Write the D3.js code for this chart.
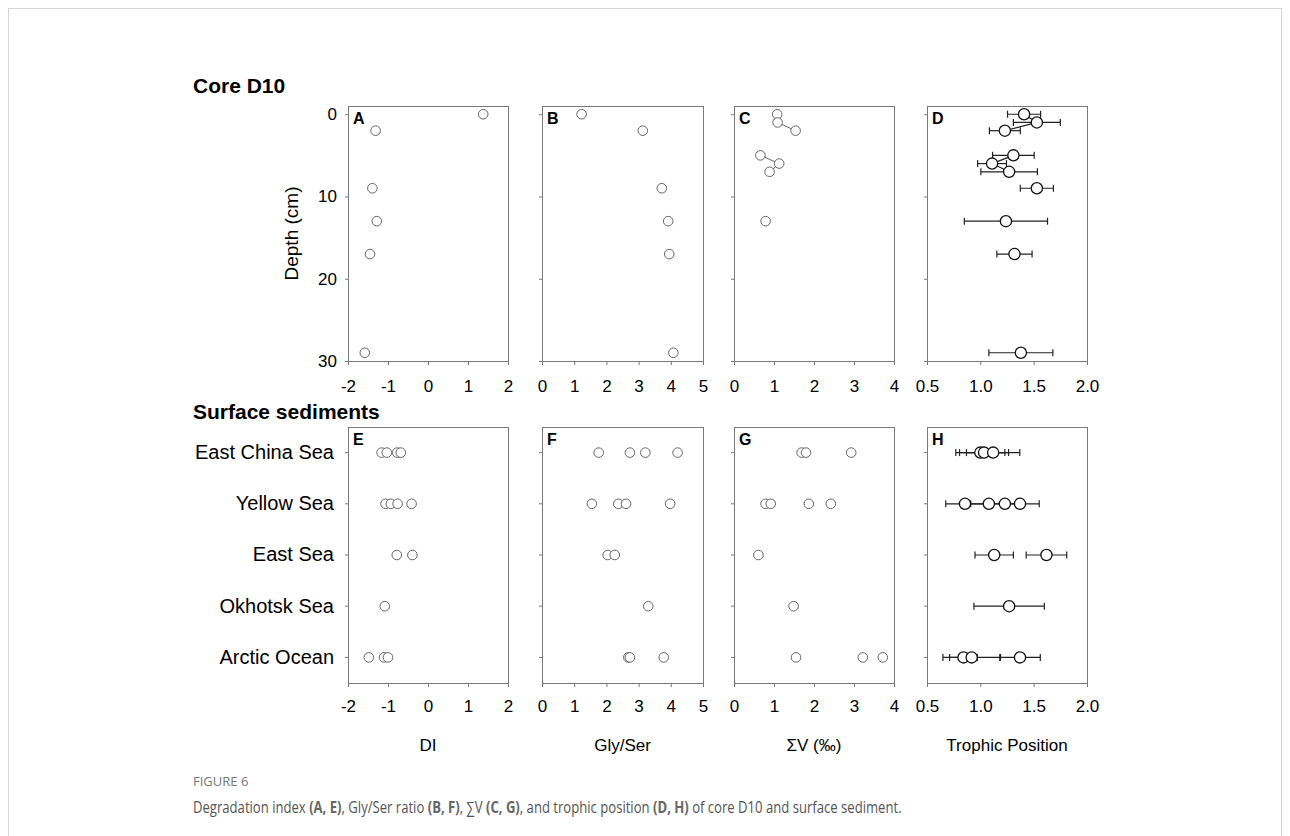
<!DOCTYPE html>
<html>
<head>
<meta charset="utf-8">
<script src="https://cdn.jsdelivr.net/npm/d3@7"></script>
<style>
  body { margin: 0; background: #fff; }
  svg { display: block; }
</style>
</head>
<body>
<svg id="fig" width="1290" height="836"></svg>
<script>
// ---- Core D10: sampling depths (cm); null where a variable was not measured ----
const coreDepth  = [0, 1, 2, 5, 6, 7, 9, 13, 17, 29];
const coreDI     = [1.38, null, -1.31, null, null, null, -1.39, -1.28, -1.45, -1.58];
const coreGlySer = [1.23, null, 3.13, null, null, null, 3.72, 3.92, 3.95, 4.08];
const coreSumV   = [1.08, 1.09, 1.54, 0.66, 1.13, 0.89, null, 0.79, null, null];
const coreTP     = [1.41, 1.53, 1.23, 1.31, 1.11, 1.27, 1.53, 1.24, 1.32, 1.38];
const coreTPsd   = [0.155, 0.22, 0.145, 0.195, 0.135, 0.265, 0.155, 0.39, 0.165, 0.30];

// ---- Surface sediments, one list of stations per region ----
const regions = ["East China Sea", "Yellow Sea", "East Sea", "Okhotsk Sea", "Arctic Ocean"];
const surfaceDI     = [[-1.16, -1.03, -0.77, -0.68], [-1.06, -0.93, -0.76, -0.41], [-0.78, -0.39], [-1.08], [-1.48, -1.10, -1.00]];
const surfaceGlySer = [[1.76, 2.73, 3.21, 4.21], [1.55, 2.37, 2.61, 3.98], [2.04, 2.26], [3.30], [2.68, 2.73, 3.78]];
const surfaceSumV   = [[1.69, 1.80, 2.93], [0.79, 0.92, 1.87, 2.42], [0.61], [1.49], [1.55, 3.22, 3.72]];
const surfaceTP     = [[1.00, 1.035, 1.12], [0.856, 1.08, 1.23, 1.372], [1.13, 1.62], [1.27], [0.842, 0.919, 1.372]];
const surfaceTPsd   = [[0.23, 0.23, 0.25], [0.18, 0.17, 0.13, 0.18], [0.18, 0.19], [0.33], [0.13, 0.27, 0.19]];

// ---- Axis ticks and labels ----
const depthTicks  = [0, 10, 20, 30];
const ticksDI     = [-2, -1, 0, 1, 2];
const ticksGlySer = [0, 1, 2, 3, 4, 5];
const ticksSumV   = [0, 1, 2, 3, 4];
const ticksTP     = [0.5, 1.0, 1.5, 2.0];
const axisTitles  = ["DI", "Gly/Ser", "\u03A3V (\u2030)", "Trophic Position"];
const coreLetters    = ["A", "B", "C", "D"];
const surfaceLetters = ["E", "F", "G", "H"];

const FONT = "'Liberation Sans', Arial, Helvetica, sans-serif";
const svg = d3.select("#fig");

// outer figure box
svg.append("rect")
  .attr("x", 8.5).attr("y", 8.5).attr("width", 1273).attr("height", 900)
  .attr("fill", "none").attr("stroke", "#d6d6d6");

// ---- column x scales ----
const columns = [
  { x: d3.scaleLinear().domain([-2, 2]).range([348, 508]),  ticks: ticksDI,     fmt: d => String(d) },
  { x: d3.scaleLinear().domain([0, 5]).range([542, 703]),   ticks: ticksGlySer, fmt: d => String(d) },
  { x: d3.scaleLinear().domain([0, 4]).range([734, 894]),   ticks: ticksSumV,   fmt: d => String(d) },
  { x: d3.scaleLinear().domain([0.5, 2]).range([927, 1087]), ticks: ticksTP,    fmt: d3.format(".1f") }
];

// ---- row y scales ----
const yCore = d3.scaleLinear().domain([-1, 30]).range([106, 361]);
const ySurf = d3.scaleBand().domain(regions).range([427, 683]);
const ySurfC = r => ySurf(r) + ySurf.bandwidth() / 2;

function styleAxis(g, size) {
  g.select(".domain").remove();
  g.selectAll(".tick line").attr("stroke", "#7a7a7a");
  g.selectAll(".tick text").attr("fill", "#000").attr("font-family", FONT).attr("font-size", size);
}

function drawFrame(col, top, bottom, letter, yAxisFn, showYLabels, xPad, yLabelSize) {
  const [x0, x1] = col.x.range();
  const g = svg.append("g");
  // x axis along the bottom edge
  g.append("g").attr("transform", `translate(0,${bottom})`)
    .call(d3.axisBottom(col.x).tickValues(col.ticks).tickFormat(col.fmt).tickSize(4).tickPadding(xPad))
    .call(styleAxis, 17);
  // y axis along the left edge
  g.append("g").attr("transform", `translate(${x0},0)`)
    .call(yAxisFn(showYLabels))
    .call(styleAxis, yLabelSize);
  g.append("rect")
    .attr("x", x0 + 0.5).attr("y", top + 0.5)
    .attr("width", x1 - x0).attr("height", bottom - top)
    .attr("fill", "none").attr("stroke", "#7a7a7a");
  g.append("text").attr("x", x0 + 5).attr("y", top + 18)
    .attr("font-family", FONT).attr("font-size", 16).attr("font-weight", "bold")
    .text(letter);
  return g;
}

const coreYAxis = show => d3.axisLeft(yCore).tickValues(depthTicks).tickSize(3).tickPadding(8)
  .tickFormat(show ? d => String(d) : () => "");
const surfYAxis = show => d3.axisLeft(ySurf).tickSize(3).tickPadding(11)
  .tickFormat(show ? d => d : () => "");

// ---- Core D10 panels ----
const coreSeries = [coreDI, coreGlySer, coreSumV, coreTP];
coreSeries.forEach((vals, ci) => {
  const col = columns[ci];
  const isTP = ci === 3;
  const g = drawFrame(col, 106, 361, coreLetters[ci], coreYAxis, ci === 0, 15, 17);
  const pts = coreDepth.map((d, i) => ({ depth: d, v: vals[i], sd: isTP ? coreTPsd[i] : null }));
  // connect samples from adjacent 1-cm slices
  const line = d3.line().x(d => col.x(d.v)).y(d => yCore(d.depth));
  for (let i = 1; i < pts.length; i++) {
    const a = pts[i - 1], b = pts[i];
    if (a.v != null && b.v != null && b.depth - a.depth === 1) {
      g.append("path").attr("d", line([a, b]))
        .attr("fill", "none").attr("stroke", isTP ? "#222" : "#666").attr("stroke-width", isTP ? 1.2 : 1);
    }
  }
  drawPoints(g, pts.filter(p => p.v != null), col.x, p => yCore(p.depth), isTP);
});

// ---- Surface sediment panels ----
const surfaceSeries = [surfaceDI, surfaceGlySer, surfaceSumV, surfaceTP];
surfaceSeries.forEach((vals, ci) => {
  const col = columns[ci];
  const isTP = ci === 3;
  const g = drawFrame(col, 427, 683, surfaceLetters[ci], surfYAxis, ci === 0, 13, 20);
  const pts = [];
  regions.forEach((r, ri) => vals[ri].forEach((v, k) =>
    pts.push({ region: r, v, sd: isTP ? surfaceTPsd[ri][k] : null })));
  drawPoints(g, pts, col.x, p => ySurfC(p.region), isTP);
});

function drawPoints(g, pts, x, yOf, isTP) {
  if (isTP) {
    const eb = g.append("g").attr("stroke", "#222").attr("stroke-width", 1.2);
    pts.forEach(p => {
      const y = yOf(p), lo = x(p.v - p.sd), hi = x(p.v + p.sd);
      eb.append("line").attr("x1", lo).attr("x2", hi).attr("y1", y).attr("y2", y);
      eb.append("line").attr("x1", lo).attr("x2", lo).attr("y1", y - 3.5).attr("y2", y + 3.5);
      eb.append("line").attr("x1", hi).attr("x2", hi).attr("y1", y - 3.5).attr("y2", y + 3.5);
    });
  }
  g.append("g").selectAll("circle").data(pts).join("circle")
    .attr("cx", p => x(p.v)).attr("cy", yOf)
    .attr("r", isTP ? 5.6 : 4.8)
    .attr("fill", "#fff")
    .attr("stroke", isTP ? "#111" : "#666")
    .attr("stroke-width", isTP ? 1.3 : 1);
}

// ---- axis titles and section headings ----
columns.forEach((col, ci) => {
  const [x0, x1] = col.x.range();
  svg.append("text").attr("x", (x0 + x1) / 2).attr("y", 751)
    .attr("text-anchor", "middle").attr("font-family", FONT).attr("font-size", 17)
    .text(axisTitles[ci]);
});
svg.append("text")
  .attr("transform", `translate(298,${(106 + 361) / 2}) rotate(-90)`)
  .attr("text-anchor", "middle").attr("font-family", FONT).attr("font-size", 19)
  .text("Depth (cm)");
svg.append("text").attr("x", 193).attr("y", 93)
  .attr("font-family", FONT).attr("font-size", 21).attr("font-weight", "bold")
  .text("Core D10");
svg.append("text").attr("x", 193).attr("y", 419)
  .attr("font-family", FONT).attr("font-size", 21).attr("font-weight", "bold")
  .text("Surface sediments");

// ---- figure caption ----
const CAP_FONT = "'Open Sans', 'Noto Sans', sans-serif";
svg.append("text").attr("x", 193).attr("y", 786)
  .attr("font-family", CAP_FONT).attr("font-size", 13).attr("fill", "#777")
  .text("FIGURE 6");
const captionParts = [
  ["Degradation index ", false], ["(A, E)", true], [", Gly/Ser ratio ", false], ["(B, F)", true],
  [", \u2211V ", false], ["(C, G)", true], [", and trophic position ", false], ["(D, H)", true],
  [" of core D10 and surface sediment.", false]
];
const cap = svg.append("text").attr("x", 193).attr("y", 813)
  .attr("font-family", CAP_FONT).attr("font-size", 15.5).attr("fill", "#555");
captionParts.forEach(([t, b]) => cap.append("tspan")
  .attr("font-weight", b ? 700 : 400).attr("fill", b ? "#666" : "#555").text(t));
// condense the caption line to the column width used by the figure
const capW = cap.node().getComputedTextLength();
const sx = 709 / capW;
cap.attr("transform", `translate(${193 * (1 - sx)},0) scale(${sx},1)`);
</script>
</body>
</html>
